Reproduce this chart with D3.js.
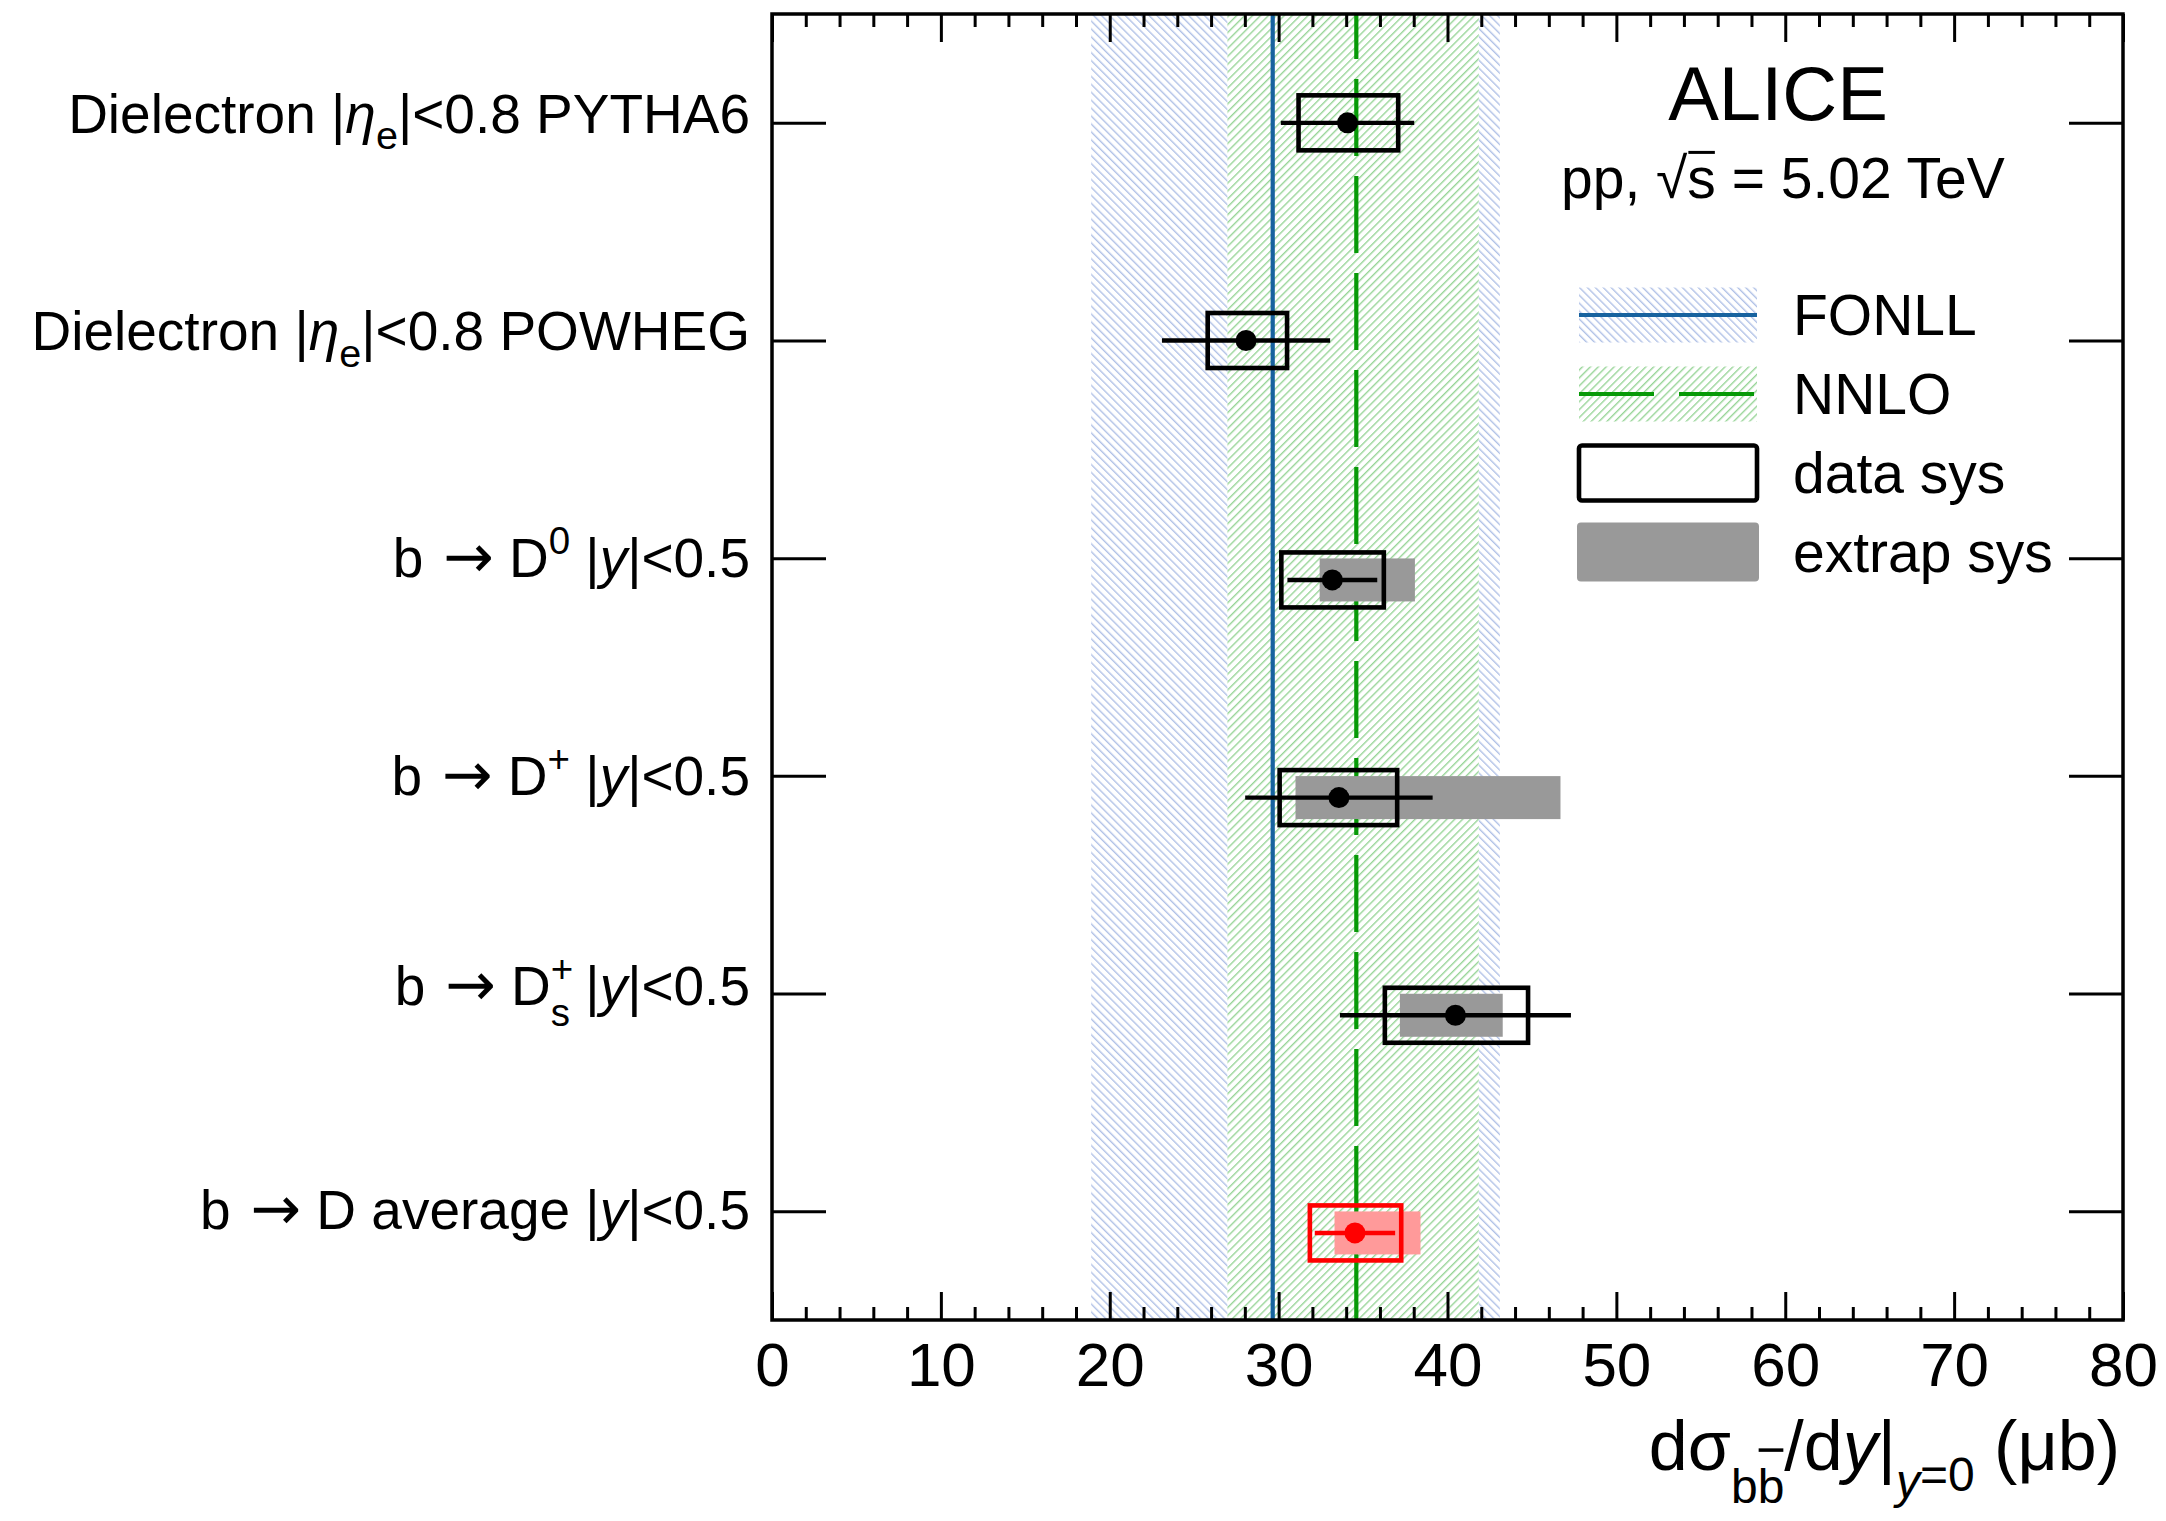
<!DOCTYPE html>
<html>
<head>
<meta charset="utf-8">
<script src="https://cdn.jsdelivr.net/npm/d3@7"></script>
<style>
  body { margin: 0; background: #fff; }
  text { font-family: "Liberation Sans", Arial, Helvetica, sans-serif; fill: #000; }
</style>
</head>
<body>
<div id="chart"></div>
<script>
// ---- data (values in microbarn) ----
var rowTicks = [0, 1, 2, 3, 4, 5];
var rowPos = [0, 1, 2.1, 3.1, 4.1, 5.1];          // vertical slot of each measurement
var central = [34.08, 28.07, 33.18, 33.57, 40.47, 34.52];
var statErr = [3.95, 4.98, 2.66, 5.55, 6.84, 2.38];
var dataSysLo = [2.9, 2.27, 3.02, 3.51, 4.18, 2.67];
var dataSysHi = [3.0, 2.43, 3.05, 3.45, 4.3, 2.74];
var extrapLo = [null, null, 0.75, 2.57, 3.29, 1.21];
var extrapHi = [null, null, 4.89, 13.12, 2.8, 3.88];
var isAverage = [false, false, false, false, false, true];

var fonll = { central: 29.65, lo: 18.9, hi: 43.1 };
var nnlo = { central: 34.6, lo: 26.97, hi: 41.85 };

var xMajorTicks = [0, 10, 20, 30, 40, 50, 60, 70, 80];
var xMinorTicks = d3.range(0, 81, 2).filter(function(v) { return v % 10 !== 0; });

// label segments: [text, kind]
var rowLabels = [
  [["Dielectron |", "n"], ["\u03B7", "i"], ["e", "sub"], ["|<0.8 PYTHA6", "n"]],
  [["Dielectron |", "n"], ["\u03B7", "i"], ["e", "sub"], ["|<0.8 POWHEG", "n"]],
  [["b ", "n"], ["\u2192", "arrow"], [" D", "n"], ["0", "sup"], [" |", "n"], ["y", "i"], ["|<0.5", "n"]],
  [["b ", "n"], ["\u2192", "arrow"], [" D", "n"], ["+", "sup"], [" |", "n"], ["y", "i"], ["|<0.5", "n"]],
  [["b ", "n"], ["\u2192", "arrow"], [" D", "n"], ["+", "sup"], ["s", "subunder"], [" |", "n"], ["y", "i"], ["|<0.5", "n"]],
  [["b ", "n"], ["\u2192", "arrow"], [" D average |", "n"], ["y", "i"], ["|<0.5", "n"]]
];
var xTitle = [["d\u03C3", "n"], ["b", "subover"], ["b", "subover"], ["/d", "n"], ["y", "i"], ["|", "n"],
              ["y", "subi"], ["=0", "sub"], [" (\u03BCb)", "n"]];
var legendItems = [
  { label: "FONLL", type: "fonll" },
  { label: "NNLO", type: "nnlo" },
  { label: "data sys", type: "datasys" },
  { label: "extrap sys", type: "extrap" }
];

// ---- layout ----
var W = 2166, H = 1521;
var frame = { left: 772, right: 2123, top: 14, bottom: 1320 };
var blueLine = "#17629f", greenLine = "#079a07";

var svg = d3.select("#chart").append("svg")
  .attr("width", W).attr("height", H);

var x = d3.scaleLinear().domain([0, 80]).range([frame.left, frame.right]);
var y = d3.scaleLinear().domain([-0.5, 5.5]).range([frame.top, frame.bottom]);

// hatch patterns
var defs = svg.append("defs");
function hatch(id, color, angle) {
  var p = defs.append("pattern")
    .attr("id", id)
    .attr("patternUnits", "userSpaceOnUse")
    .attr("width", 5.6).attr("height", 5.6)
    .attr("patternTransform", "rotate(" + angle + ")");
  p.append("line")
    .attr("x1", 0).attr("y1", 0).attr("x2", 0).attr("y2", 5.6)
    .attr("stroke", color).attr("stroke-width", 2.8);
}
hatch("hatchBlue", "#b0c1e6", -45);
hatch("hatchGreen", "#98d598", 45);

// theory bands
var plot = svg.append("g");
plot.append("rect")
  .attr("x", x(fonll.lo)).attr("y", frame.top)
  .attr("width", x(fonll.hi) - x(fonll.lo)).attr("height", frame.bottom - frame.top)
  .attr("fill", "url(#hatchBlue)");
plot.append("rect")
  .attr("x", x(nnlo.lo)).attr("y", frame.top)
  .attr("width", x(nnlo.hi) - x(nnlo.lo)).attr("height", frame.bottom - frame.top)
  .attr("fill", "#fff");
plot.append("rect")
  .attr("x", x(nnlo.lo)).attr("y", frame.top)
  .attr("width", x(nnlo.hi) - x(nnlo.lo)).attr("height", frame.bottom - frame.top)
  .attr("fill", "url(#hatchGreen)");

// theory central values
plot.append("line")
  .attr("x1", x(fonll.central)).attr("x2", x(fonll.central))
  .attr("y1", frame.bottom).attr("y2", frame.top)
  .attr("stroke", blueLine).attr("stroke-width", 4.2);
plot.append("line")
  .attr("x1", x(nnlo.central)).attr("x2", x(nnlo.central))
  .attr("y1", frame.bottom).attr("y2", frame.top)
  .attr("stroke", greenLine).attr("stroke-width", 4.2)
  .attr("stroke-dasharray", "77,20");

// measurements
var rows = central.map(function(c, i) {
  return { i: i, c: c, pos: rowPos[i], stat: statErr[i], sLo: dataSysLo[i], sHi: dataSysHi[i],
           eLo: extrapLo[i], eHi: extrapHi[i], avg: isAverage[i] };
});
var boxH = 55, extrapH = 43;

var g = plot.selectAll(".meas").data(rows).enter().append("g").attr("class", "meas");

g.filter(function(d) { return d.eLo !== null; })
  .append("rect")
  .attr("x", function(d) { return x(d.c - d.eLo); })
  .attr("y", function(d) { return y(d.pos) - extrapH / 2; })
  .attr("width", function(d) { return x(d.c + d.eHi) - x(d.c - d.eLo); })
  .attr("height", extrapH)
  .attr("fill", function(d) { return d.avg ? "#ff9a9a" : "#999999"; });

g.append("rect")
  .attr("x", function(d) { return x(d.c - d.sLo); })
  .attr("y", function(d) { return y(d.pos) - boxH / 2; })
  .attr("width", function(d) { return x(d.c + d.sHi) - x(d.c - d.sLo); })
  .attr("height", boxH)
  .attr("fill", "none")
  .attr("stroke", function(d) { return d.avg ? "#ff0000" : "#000"; })
  .attr("stroke-width", 4.6);

g.append("line")
  .attr("x1", function(d) { return x(d.c - d.stat); })
  .attr("x2", function(d) { return x(d.c + d.stat); })
  .attr("y1", function(d) { return y(d.pos); })
  .attr("y2", function(d) { return y(d.pos); })
  .attr("stroke", function(d) { return d.avg ? "#ff0000" : "#000"; })
  .attr("stroke-width", 4.4);

g.append("circle")
  .attr("cx", function(d) { return x(d.c); })
  .attr("cy", function(d) { return y(d.pos); })
  .attr("r", 10.5)
  .attr("fill", function(d) { return d.avg ? "#ff0000" : "#000"; });

// ---- axes ----
var axisG = svg.append("g");
var xAxis = axisG.append("g")
  .attr("transform", "translate(0," + frame.bottom + ")")
  .call(d3.axisBottom(x).tickValues(xMajorTicks).tickSizeInner(-28).tickSizeOuter(0).tickPadding(22));
axisG.append("g")
  .attr("transform", "translate(0," + frame.bottom + ")")
  .call(d3.axisBottom(x).tickValues(xMinorTicks).tickSizeInner(-13).tickSizeOuter(0).tickFormat(""));
axisG.append("g")
  .attr("transform", "translate(0," + frame.top + ")")
  .call(d3.axisTop(x).tickValues(xMajorTicks).tickSizeInner(-28).tickSizeOuter(0).tickFormat(""));
axisG.append("g")
  .attr("transform", "translate(0," + frame.top + ")")
  .call(d3.axisTop(x).tickValues(xMinorTicks).tickSizeInner(-13).tickSizeOuter(0).tickFormat(""));
axisG.append("g")
  .attr("transform", "translate(" + frame.left + ",0)")
  .call(d3.axisLeft(y).tickValues(rowTicks).tickSizeInner(-54).tickSizeOuter(0).tickFormat(""));
axisG.append("g")
  .attr("transform", "translate(" + frame.right + ",0)")
  .call(d3.axisRight(y).tickValues(rowTicks).tickSizeInner(-54).tickSizeOuter(0).tickFormat(""));

axisG.selectAll(".domain").remove();
axisG.selectAll(".tick line").attr("stroke", "#000").attr("stroke-width", 3);
xAxis.selectAll(".tick text")
  .attr("font-size", 62)
  .attr("font-family", "Liberation Sans, Arial, sans-serif");

svg.append("rect")
  .attr("x", frame.left).attr("y", frame.top)
  .attr("width", frame.right - frame.left).attr("height", frame.bottom - frame.top)
  .attr("fill", "none").attr("stroke", "#000").attr("stroke-width", 3.5);

// ---- rich text helper (sub/superscripts, italics) ----
function rich(sel, segs, size, subSize) {
  var cur = 0, lastSupW = 0;
  subSize = subSize || 0.72 * size;
  segs.forEach(function(s) {
    var kind = s[1], off = 0, fs = size, dx = 0;
    if (kind === "sub") { off = 0.3 * size; fs = subSize; }
    if (kind === "subi") { off = 0.4 * size; fs = subSize; }
    if (kind === "subover") { off = 0.47 * size; fs = subSize; }
    if (kind === "sup") { off = -0.42 * size; fs = 0.7 * size; }
    if (kind === "subunder") { off = 0.38 * size; fs = 0.7 * size; dx = -lastSupW; }
    if (kind === "arrow") { fs = 1.1 * size; dx = 0.08 * size; }
    var ts = sel.append("tspan").text(s[0])
      .attr("dy", off - cur)
      .attr("font-size", fs);
    if (dx) ts.attr("dx", dx);
    if (kind === "i" || kind === "subi") ts.attr("font-style", "italic");
    if (kind === "arrow") ts.attr("font-family", "DejaVu Sans");
    if (kind === "sup") lastSupW = 0.584 * fs;
    cur = off;
  });
}

// row labels: vertically centred on the tick, as the whole text box
var labelSize = 55;
rowLabels.forEach(function(segs, i) {
  var t = svg.append("text")
    .attr("x", 750)
    .attr("y", y(rowTicks[i]))
    .attr("text-anchor", "end")
    .attr("font-size", labelSize);
  rich(t, segs, labelSize);
  var bb = t.node().getBBox();
  var shift = y(rowTicks[i]) - (bb.y + bb.height / 2) - 3;
  t.attr("y", y(rowTicks[i]) + shift);
});

// bar over a character of a text element
function charBar(textSel, idx, barY, thick) {
  var e = textSel.node().getExtentOfChar(idx);
  svg.append("line")
    .attr("x1", e.x + 1).attr("x2", e.x + e.width - 1)
    .attr("y1", barY).attr("y2", barY)
    .attr("stroke", "#000").attr("stroke-width", thick);
}

// x-axis title
var titleSize = 70, titleSub = 48, titleBase = 1470;
var tt = svg.append("text")
  .attr("x", 2120).attr("y", titleBase)
  .attr("text-anchor", "end")
  .attr("font-size", titleSize);
rich(tt, xTitle, titleSize, titleSub);
charBar(tt, 3, titleBase + 0.47 * titleSize - 1.1 * titleSub, 3.5);

// ALICE label
svg.append("text")
  .attr("x", 1778).attr("y", 120)
  .attr("text-anchor", "middle")
  .attr("font-size", 76)
  .text("ALICE");
var ppBase = 198, ppSize = 57;
var pp = svg.append("text")
  .attr("x", 1561).attr("y", ppBase)
  .attr("font-size", ppSize);
pp.append("tspan").text("pp, \u221A");
pp.append("tspan").text("s");
pp.append("tspan").text(" = 5.02 TeV");
charBar(pp, 5, ppBase - 0.8 * ppSize, 3);

// ---- legend ----
var leg = svg.append("g");
var legX = 1579, legW = 178, legY0 = 315, legDy = 79, swH = 55;
legendItems.forEach(function(d, i) {
  var cy = legY0 + i * legDy;
  var item = leg.append("g");
  if (d.type === "fonll" || d.type === "nnlo") {
    item.append("rect")
      .attr("x", legX).attr("y", cy - swH / 2).attr("width", legW).attr("height", swH)
      .attr("fill", d.type === "fonll" ? "url(#hatchBlue)" : "url(#hatchGreen)");
    item.append("line")
      .attr("x1", legX).attr("x2", legX + legW).attr("y1", cy).attr("y2", cy)
      .attr("stroke", d.type === "fonll" ? blueLine : greenLine)
      .attr("stroke-width", 4.2)
      .attr("stroke-dasharray", d.type === "nnlo" ? "75,25" : null);
  } else if (d.type === "datasys") {
    item.append("rect")
      .attr("x", legX).attr("y", cy - swH / 2).attr("width", legW).attr("height", swH)
      .attr("rx", 3).attr("fill", "#fff").attr("stroke", "#000").attr("stroke-width", 4.6);
  } else {
    item.append("rect")
      .attr("x", legX - 2).attr("y", cy - swH / 2 - 2).attr("width", legW + 4).attr("height", swH + 4)
      .attr("rx", 4).attr("fill", "#999999");
  }
  item.append("text")
    .attr("x", 1793).attr("y", cy + 20)
    .attr("font-size", 57)
    .text(d.label);
});
</script>
</body>
</html>
